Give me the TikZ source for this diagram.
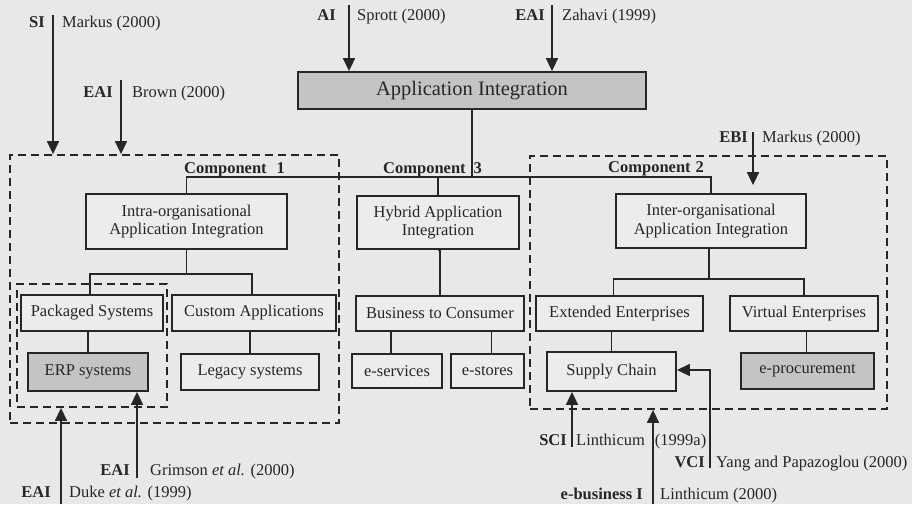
\documentclass[tikz,border=0pt]{standalone}
\usepackage{fontspec}
\setmainfont{Liberation Serif}
\usetikzlibrary{arrows.meta,calc}
\definecolor{paper}{HTML}{E8E8E8}
\definecolor{ink}{HTML}{262626}
\definecolor{boxfill}{HTML}{ECECEC}
\definecolor{shade}{HTML}{C4C4C4}
\begin{document}
\begin{tikzpicture}[x=1pt,y=-1pt,
  box/.style={draw=ink, line width=1.8pt, fill=boxfill, inner sep=0pt,
    align=center, text=ink, font=\fontsize{16.5}{18.5}\selectfont},
  dark/.style={box, fill=shade},
  title/.style={dark, font=\fontsize{20.5}{22}\selectfont},
  group/.style={draw=ink, line width=1.8pt, dash pattern=on 8pt off 5pt},
  link/.style={draw=ink, line width=1.6pt},
  cite/.style={link, -{Triangle[width=12pt,length=13pt]}},
  abbr/.style={inner sep=0pt, text=ink, font=\fontsize{16.5}{18}\selectfont\bfseries},
  src/.style={inner sep=0pt, text=ink, font=\fontsize{16.5}{18}\selectfont},
  comp/.style={inner sep=0pt, anchor=base west, text=ink, font=\fontsize{16.5}{18}\selectfont\bfseries}]
\useasboundingbox (0,0) rectangle (912,504);
\fill[paper] (0,0) rectangle (912,504);

% dashed groupings
\node[group, minimum width=329pt, minimum height=268pt] (c1) at (174.5,289) {};
\node[group, minimum width=357pt, minimum height=253pt] (c2) at (708.5,282.5) {};
\node[group, minimum width=150pt, minimum height=123pt] (pk) at (92,345.5) {};

% boxes
\node[title, minimum width=348pt, minimum height=37pt] (app) at (472,90.5) {Application Integration};
\node[box, minimum width=201pt, minimum height=55pt] (intra) at (186.5,221.5) {Intra-organisational\\Application Integration};
\node[box, minimum width=162pt, minimum height=53pt] (hyb) at (438,222.5) {Hybrid Application\\Integration};
\node[box, minimum width=190pt, minimum height=54pt] (inter) at (711,221) {Inter-organisational\\Application Integration};

\node[box, minimum width=142pt, minimum height=36pt] (pack) at (92,313) {Packaged Systems};
\node[box, minimum width=164pt, minimum height=36pt] (cust) at (254,313) {Custom Applications};
\node[dark, minimum width=120pt, minimum height=38pt] (erp) at (88,372) {ERP systems};
\node[box, minimum width=138pt, minimum height=36pt] (leg) at (250,372) {Legacy systems};

\node[box, minimum width=168pt, minimum height=35pt] (b2c) at (440,313.5) {Business to Consumer};
\node[box, minimum width=90pt, minimum height=34pt] (eserv) at (397,371) {e-services};
\node[box, minimum width=73pt, minimum height=34pt] (estore) at (487.5,371) {e-stores};

\node[box, minimum width=167pt, minimum height=35pt] (ext) at (619.5,313.5) {Extended Enterprises};
\node[box, minimum width=148pt, minimum height=35pt] (virt) at (804,313.5) {Virtual Enterprises};
\node[box, minimum width=129pt, minimum height=39pt] (sc) at (611.5,371.5) {Supply Chain};
\node[dark, minimum width=133pt, minimum height=36pt] (eproc) at (807.5,371) {e-procurement};

% tree connectors
\coordinate (bus) at (472,177);
\coordinate (j1) at (186.5,274);
\coordinate (j2) at (709,279);
\draw[link] (app.south) -- (bus);
\draw[link] (intra.north) |- (bus) -| (inter.north);
\draw[link] (hyb.north) -- (hyb.north |- bus);
\draw[link] (intra.south) -- (j1);
\draw[link] ([xshift=-2pt]pack.north) |- (j1) -| ([xshift=-2pt]cust.north);
\draw[link] (erp.north) -- (erp.north |- pack.south);
\draw[link] (leg.north) -- (leg.north |- cust.south);
\draw[link] (hyb.south) -- (hyb.south -| b2c.north) -- (b2c.north);
\draw[link] ([xshift=-6pt]eserv.north) -- ([xshift=-6pt]eserv.north |- b2c.south);
\draw[link] ([xshift=4pt]estore.north) -- ([xshift=4pt]estore.north |- b2c.south);
\draw[link] (inter.south -| j2) -- (j2);
\draw[link] ([xshift=-6pt]ext.north) |- (j2) -| (virt.north);
\draw[link] (sc.north) -- (sc.north |- ext.south);
\draw[link] ([xshift=-1pt]eproc.north) -- ([xshift=-1pt]eproc.north |- virt.south);

% component captions
\node[comp] (cap1) at (184,173) {Component\hspace{10pt}1};
\node[comp] (cap3) at (383,173) {Component\hspace{8pt}3};
\node[comp] (cap2) at (608,172) {Component\hspace{5pt}2};

% literature arrows
\coordinate (si) at (53,15);
\coordinate (brown) at (121,80);
\coordinate (sprott) at (349,5);
\coordinate (zahavi) at (552,5);
\coordinate (ebi) at (753,132);
\coordinate (grim) at (137,478);
\coordinate (duke) at (61,504);
\coordinate (sci) at (572,447);
\coordinate (ebus) at (653,504);
\coordinate (vci) at (710,468);

\draw[cite] (si) -- (si |- c1.north);
\draw[cite] (brown) -- (brown |- c1.north);
\draw[cite] (sprott) -- (sprott |- app.north);
\draw[cite] (zahavi) -- (zahavi |- app.north);
\draw[cite, shorten >=8pt] (ebi) -- (ebi |- inter.north);
\draw[cite] (grim) -- (grim |- erp.south);
\draw[cite] (duke) -- (duke |- pk.south);
\draw[cite] (sci) -- (sci |- sc.south);
\draw[cite] (ebus) -- (ebus |- c2.south);
\draw[cite] (vci) |- ([yshift=1.5pt]sc.east);

% labels beside the arrows
\node[abbr, anchor=base east] (siA) at (45,27) {SI};
\node[src, anchor=base west] (siB) at (62,27) {Markus (2000)};
\node[abbr, anchor=base east] (brA) at (113,97) {EAI};
\node[src, anchor=base west] (brB) at (132,97) {Brown (2000)};
\node[abbr, anchor=base east] (spA) at (336,20) {AI};
\node[src, anchor=base west] (spB) at (357,20) {Sprott (2000)};
\node[abbr, anchor=base east] (zaA) at (545,20) {EAI};
\node[src, anchor=base west] (zaB) at (562,20) {Zahavi (1999)};
\node[abbr, anchor=base east] (ebA) at (748,142) {EBI};
\node[src, anchor=base west] (ebB) at (762,142) {Markus (2000)};
\node[abbr, anchor=base east] (grA) at (130,475) {EAI};
\node[src, anchor=base west] (grB) at (150,475) {Grimson \textit{et al.} (2000)};
\node[abbr, anchor=base east] (duA) at (51,497) {EAI};
\node[src, anchor=base west] (duB) at (69,497) {Duke \textit{et al.} (1999)};
\node[abbr, anchor=base east] (scA) at (567,445) {SCI};
\node[src, anchor=base west] (scB) at (576,445) {Linthicum\hspace{10pt}(1999a)};
\node[abbr, anchor=base east] (vcA) at (705,467) {VCI};
\node[src, anchor=base west] (vcB) at (716,467) {Yang and Papazoglou (2000)};
\node[abbr, anchor=base east] (bsA) at (643,499) {e-business I};
\node[src, anchor=base west] (bsB) at (660,499) {Linthicum (2000)};
\end{tikzpicture}
\end{document}
